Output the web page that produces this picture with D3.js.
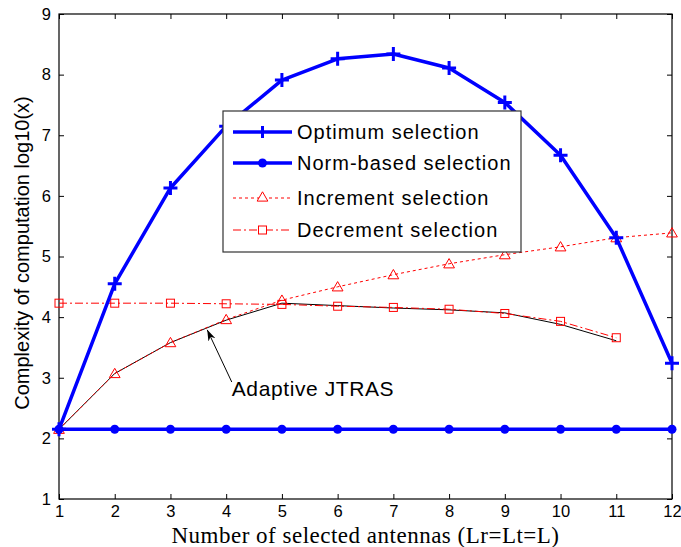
<!DOCTYPE html>
<html>
<head>
<meta charset="utf-8">
<script src="https://cdn.jsdelivr.net/npm/d3@7"></script>
<style>
  html, body { margin: 0; padding: 0; background: #fff; }
  svg { display: block; }
</style>
</head>
<body>
<svg id="chart" width="681" height="547"></svg>
<script>
// Number of selected antennas
const antennas = [1, 2, 3, 4, 5, 6, 7, 8, 9, 10, 11, 12];
// log10 of computational complexity for each scheme
const optimum   = [2.15, 4.55, 6.13, 7.15, 7.91, 8.26, 8.34, 8.11, 7.54, 6.67, 5.31, 3.24];
const normBased = [2.15, 2.15, 2.15, 2.15, 2.15, 2.15, 2.15, 2.15, 2.15, 2.15, 2.15, 2.15];
const increment = [2.15, 3.07, 3.58, 3.96, 4.28, 4.50, 4.70, 4.88, 5.03, 5.16, 5.31, 5.39];
const decrement = [4.23, 4.23, 4.23, 4.22, 4.21, 4.18, 4.16, 4.13, 4.06, 3.93, 3.66];
const adaptive  = [2.15, 3.07, 3.58, 3.95, 4.23, 4.19, 4.15, 4.12, 4.07, 3.88, 3.61];
const yTicks = [1, 2, 3, 4, 5, 6, 7, 8, 9];
const legendLabels = ["Optimum selection", "Norm-based selection", "Increment selection", "Decrement selection"];

const svg = d3.select("#chart");
const L = 59, R = 672, T = 14, B = 499;
const x = d3.scaleLinear().domain([1, 12]).range([L, R]);
const y = d3.scaleLinear().domain([1, 9]).range([B, T]);

const sans = "Arial, 'Liberation Sans', sans-serif";
const serif = "'Times New Roman', 'Liberation Serif', serif";

// Axes with inward ticks on all four sides
const axB = d3.axisBottom(x).tickValues(antennas).tickSize(-5).tickPadding(6).tickFormat(d3.format("d"));
const axT = d3.axisTop(x).tickValues(antennas).tickSize(-5).tickFormat("");
const axLf = d3.axisLeft(y).tickValues(yTicks).tickSize(-5).tickPadding(8).tickFormat(d3.format("d"));
const axRt = d3.axisRight(y).tickValues(yTicks).tickSize(-5).tickFormat("");

function styleAxis(g) {
  g.selectAll("path.domain").remove();
  g.selectAll("line").attr("stroke", "#000").attr("stroke-width", 1);
  g.selectAll("text").attr("fill", "#000").style("font-family", sans).style("font-size", "16.5px");
}
svg.append("g").attr("transform", `translate(0,${B})`).call(axB).call(styleAxis);
svg.append("g").attr("transform", `translate(0,${T})`).call(axT).call(styleAxis);
svg.append("g").attr("transform", `translate(${L},0)`).call(axLf).call(styleAxis);
svg.append("g").attr("transform", `translate(${R},0)`).call(axRt).call(styleAxis);

svg.append("rect").attr("x", L).attr("y", T).attr("width", R - L).attr("height", B - T)
  .attr("fill", "none").attr("stroke", "#000").attr("stroke-width", 1.2);

const line = d3.line().x((d, i) => x(antennas[i])).y(d => y(d));

// Adaptive JTRAS (thin black)
svg.append("path").datum(adaptive).attr("d", line)
  .attr("fill", "none").attr("stroke", "#000").attr("stroke-width", 1);

// Decrement selection: red dash-dot with squares
svg.append("path").datum(decrement).attr("d", line)
  .attr("fill", "none").attr("stroke", "#ff0000").attr("stroke-width", 1)
  .attr("stroke-dasharray", "8,3,2,3");
svg.append("g").selectAll("rect").data(decrement).join("rect")
  .attr("x", (d, i) => x(antennas[i]) - 4).attr("y", d => y(d) - 4)
  .attr("width", 8).attr("height", 8)
  .attr("fill", "none").attr("stroke", "#ff0000").attr("stroke-width", 1);

// Increment selection: red dotted with triangles
svg.append("path").datum(increment).attr("d", line)
  .attr("fill", "none").attr("stroke", "#ff0000").attr("stroke-width", 1)
  .attr("stroke-dasharray", "3,3");
const tri = d3.symbol().type(d3.symbolTriangle).size(50);
svg.append("g").selectAll("path").data(increment).join("path")
  .attr("d", tri)
  .attr("transform", (d, i) => `translate(${x(antennas[i])},${y(d) + 1})`)
  .attr("fill", "none").attr("stroke", "#ff0000").attr("stroke-width", 1);

// Norm-based selection: thick blue with filled dots
svg.append("path").datum(normBased).attr("d", line)
  .attr("fill", "none").attr("stroke", "#0000ff").attr("stroke-width", 3.5);
svg.append("g").selectAll("circle").data(normBased).join("circle")
  .attr("cx", (d, i) => x(antennas[i])).attr("cy", d => y(d)).attr("r", 4.5)
  .attr("fill", "#0000ff");

// Optimum selection: thick blue with plus markers
svg.append("path").datum(optimum).attr("d", line)
  .attr("fill", "none").attr("stroke", "#0000ff").attr("stroke-width", 3.5)
  .attr("stroke-linejoin", "round");
svg.append("g").selectAll("path").data(optimum).join("path")
  .attr("d", (d, i) => {
    const cx = x(antennas[i]), cy = y(d), s = 7;
    return `M${cx - s},${cy}H${cx + s}M${cx},${cy - s}V${cy + s}`;
  })
  .attr("stroke", "#0000ff").attr("stroke-width", 3);

// Annotation for the adaptive scheme
svg.append("defs").append("marker").attr("id", "ah")
  .attr("viewBox", "0 0 10 10").attr("refX", 10).attr("refY", 5)
  .attr("markerWidth", 11).attr("markerHeight", 11).attr("orient", "auto")
  .append("path").attr("d", "M0,1.5L10,5L0,8.5L3,5Z").attr("fill", "#000");
const ax0 = x(4.1), ay0 = y(2.93), ax1 = x(3.66), ay1 = y(3.79);
svg.append("line").attr("x1", ax0).attr("y1", ay0).attr("x2", ax1).attr("y2", ay1)
  .attr("stroke", "#000").attr("stroke-width", 1).attr("marker-end", "url(#ah)");
svg.append("text").attr("x", x(4.1)).attr("y", y(2.7))
  .style("font-family", sans).style("font-size", "21px").style("letter-spacing", "0.6px")
  .text("Adaptive JTRAS");

// Legend
const lg = svg.append("g");
lg.append("rect").attr("x", 223).attr("y", 111).attr("width", 298).attr("height", 141)
  .attr("fill", "#fff").attr("stroke", "#333").attr("stroke-width", 1.2);
const rowsY = [132, 163, 198, 230];
const lx0 = 233, lx1 = 292, lmid = (lx0 + lx1) / 2;
rowsY.forEach((ry, i) => {
  const ln = lg.append("line").attr("x1", lx0).attr("x2", lx1).attr("y1", ry).attr("y2", ry);
  if (i < 2) {
    ln.attr("stroke", "#0000ff").attr("stroke-width", 3.5);
  } else {
    ln.attr("stroke", "#ff0000").attr("stroke-width", 1)
      .attr("stroke-dasharray", i === 2 ? "3,3" : "8,3,2,3");
  }
  if (i === 0) {
    lg.append("path").attr("d", `M${lmid},${ry - 6}V${ry + 6}`).attr("stroke", "#0000ff").attr("stroke-width", 3);
  } else if (i === 1) {
    lg.append("circle").attr("cx", lmid).attr("cy", ry).attr("r", 4.5).attr("fill", "#0000ff");
  } else if (i === 2) {
    lg.append("path").attr("d", tri).attr("transform", `translate(${lmid},${ry})`)
      .attr("fill", "#fff").attr("stroke", "#ff0000").attr("stroke-width", 1);
  } else {
    lg.append("rect").attr("x", lmid - 4).attr("y", ry - 4).attr("width", 8).attr("height", 8)
      .attr("fill", "#fff").attr("stroke", "#ff0000").attr("stroke-width", 1);
  }
  lg.append("text").attr("x", 297).attr("y", ry + 7)
    .style("font-family", sans).style("font-size", "20px").style("letter-spacing", "1px")
    .text(legendLabels[i]);
});

// Axis titles
svg.append("text").attr("x", (L + R) / 2).attr("y", 543).attr("text-anchor", "middle")
  .style("font-family", serif).style("font-size", "23px").style("letter-spacing", "0.5px")
  .text("Number of selected antennas (Lr=Lt=L)");
svg.append("text").attr("transform", `translate(29,253) rotate(-90)`)
  .attr("text-anchor", "middle")
  .style("font-family", sans).style("font-size", "20px")
  .text("Complexity of computation log10(x)");
</script>
</body>
</html>
